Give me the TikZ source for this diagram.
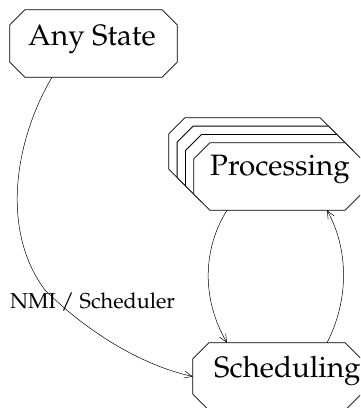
\documentclass[tikz,border=0pt]{standalone}
\usepackage[T1]{fontenc}
\usepackage{mathpazo}
\usetikzlibrary{arrows.meta}
\newcommand\octo[2]{\draw[boxline] ([xshift=#2]#1.north west) -- ([xshift=-#2]#1.north east) -- ([yshift=-#2]#1.north east) -- ([yshift=#2]#1.south east) -- ([xshift=-#2]#1.south east) -- ([xshift=#2]#1.south west) -- ([yshift=#2]#1.south west) -- ([yshift=-#2]#1.north west) -- cycle;}
\tikzset{
 statebox/.style={draw=none, rectangle, minimum width=167pt, minimum height=67pt, inner sep=0pt},
 boxline/.style={draw=black, fill=white, line width=0.8pt},
 statetext/.style={inner sep=0pt, anchor=base west, font=\fontsize{29.5}{34}\selectfont},
 conn/.style={draw, line width=0.5pt, -{Straight Barb[length=8pt,width=7pt]}},
 lbl/.style={inner sep=0pt, anchor=base west, font=\fontsize{21.6}{26}\selectfont}
}
\begin{document}
\begin{tikzpicture}[x=1pt,y=-1pt]
\useasboundingbox (0,0) rectangle (360,408);
\clip (0,0) rectangle (360,408);
% boxes
\node[statebox] (any) at (93.5,43.5) {};
\node[statebox] (procC) at (252.5,151.5) {};
\node[statebox] (procB) at (260.8,159.8) {};
\node[statebox] (procA) at (269.2,168.2) {};
\node[statebox] (proc) at (277.5,176.5) {};
\node[statebox, minimum width=168pt] (sched) at (277,376.5) {};
\octo{any}{15pt}
\octo{procC}{16pt}
\octo{procB}{16pt}
\octo{procA}{16pt}
\octo{proc}{16pt}
\octo{sched}{16pt}
% texts
\node[statetext] (anyt) at (28,45) {Any State};
\node[statetext] (proct) at (210,175) {Processing};
\node[statetext] (schedt) at (214,377) {Scheduling};
% connectors
\coordinate (mid) at (45,290);
\draw[conn] ([xshift=-41.5pt]any.south) .. controls (15,140) and (0,230) .. (mid) .. controls (85,330) and (140,365) .. (sched.west);
\draw[conn] ([xshift=-50.5pt]proc.south) .. controls (202,250) and (202,300) .. ([xshift=-50pt]sched.north);
\draw[conn] ([xshift=50pt]sched.north) .. controls (349,300) and (349,250) .. ([xshift=49.5pt]proc.south);
\node[lbl] (nmi) at (10,308) {NMI / Scheduler};
\end{tikzpicture}
\end{document}
